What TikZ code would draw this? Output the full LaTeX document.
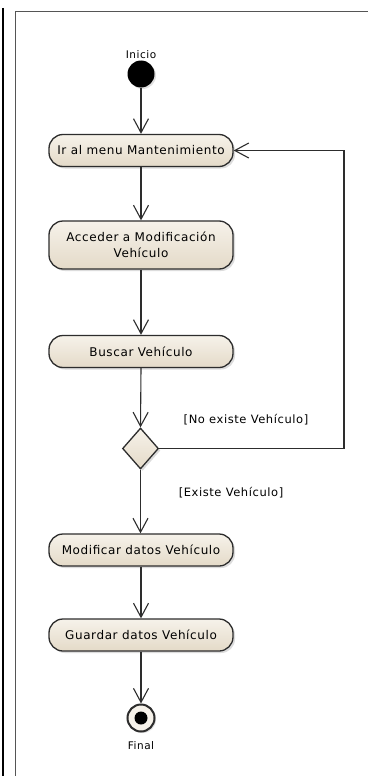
\documentclass[tikz,border=0pt]{standalone}
\usepackage{fontspec}
\setmainfont[LetterSpace=5]{DejaVu Sans}
\usetikzlibrary{arrows.meta,shapes.geometric,shadows}

\definecolor{actTop}{RGB}{246,242,234}
\definecolor{actBot}{RGB}{228,218,200}
\definecolor{edge}{RGB}{45,45,45}
\definecolor{frame}{RGB}{85,85,85}

\tikzset{
  activity/.style={rectangle, rounded corners=14pt, draw=edge, line width=1.3pt,
    top color=actTop, bottom color=actBot, minimum width=184pt, minimum height=32pt,
    inner sep=0pt, align=center, font=\fontsize{12}{16}\selectfont, text=black,
    drop shadow={shadow xshift=2pt, shadow yshift=-2pt, fill=black!30, opacity=0.45}},
  decision/.style={diamond, draw=edge, line width=1.3pt, top color=actTop, bottom color=actBot,
    minimum width=36pt, minimum height=41pt, inner sep=0pt,
    drop shadow={shadow xshift=2pt, shadow yshift=-2pt, fill=black!30, opacity=0.45}},
  flow/.style={draw=edge, line width=1.1pt, -{Straight Barb[length=14pt, width=15pt, line width=1.1pt]}},
  guard/.style={font=\fontsize{11.5}{14}\selectfont, text=black},
  caption/.style={font=\fontsize{10.5}{12}\selectfont, text=black}
}

\begin{document}
\begin{tikzpicture}[x=1pt, y=-1pt]
  \useasboundingbox (0,0) rectangle (368,776);
  \fill[white] (0,0) rectangle (368,776);

  % outer frame lines
  \draw[black, line width=2pt] (3,8) -- (3,776);
  \draw[frame, line width=1.6pt] (15.5,776) -- (15.5,11.5) -- (368,11.5);

  % start node
  \node[circle, fill=black, minimum size=27pt, inner sep=0pt,
    drop shadow={shadow xshift=1.5pt, shadow yshift=-1.5pt, fill=black!30, opacity=0.4}] (start) at (141,74) {};
  \node[caption] (startlbl) at (141,55) {Inicio};

  % activities
  \node[activity] (menu) at (141,150.5) {Ir al menu Mantenimiento};
  \node[activity, minimum height=48pt] (acceder) at (141,245) {Acceder a Modificación\\Vehículo};
  \node[activity] (buscar) at (141,351.5) {Buscar Vehículo};
  \node[decision] (dec) at (140.5,448.5) {};
  \node[activity] (modificar) at (141,550) {Modificar datos Vehículo};
  \node[activity] (guardar) at (141,635) {Guardar datos Vehículo};

  % final node
  \node[circle, draw=edge, line width=2pt, fill=actTop, minimum size=27pt, inner sep=0pt,
    drop shadow={shadow xshift=1.5pt, shadow yshift=-1.5pt, fill=black!30, opacity=0.4}] (final) at (141,718) {};
  \node[circle, fill=black, minimum size=13pt, inner sep=0pt] (finaldot) at (final.center) {};
  \node[caption] (finallbl) at (141,746) {Final};

  % control flow
  \draw[flow] (start) -- (menu);
  \draw[flow] (menu) -- (acceder);
  \draw[flow] (acceder) -- (buscar);
  \draw[flow] (buscar.south) -- (dec.north);
  \draw[flow] (dec.south) -- (modificar.north -| dec.south);
  \draw[flow] (modificar) -- (guardar);
  \draw[flow] (guardar) -- (final);

  \coordinate (loopA) at (344,448.5);
  \coordinate (loopB) at (344,150.5);
  \draw[flow] (dec.east) -- (loopA) -- (loopB) -- (menu.east);

  % guards
  \node[guard] (gno) at (246,420) {[No existe Vehículo]};
  \node[guard] (gsi) at (231,493) {[Existe Vehículo]};
\end{tikzpicture}
\end{document}
